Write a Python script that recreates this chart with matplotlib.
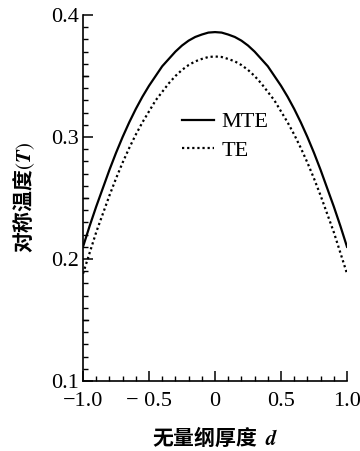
import matplotlib
matplotlib.use('Agg')
import matplotlib.pyplot as plt
from matplotlib.ticker import MultipleLocator

plt.rcParams['mathtext.fontset'] = 'stix'

# 无量纲厚度 d
d = [-1.0, -0.95, -0.9, -0.85, -0.8, -0.75, -0.7, -0.65, -0.6, -0.55, -0.5,
     -0.45, -0.4, -0.35, -0.3, -0.25, -0.2, -0.15, -0.1, -0.05, 0.0,
     0.05, 0.1, 0.15, 0.2, 0.25, 0.3, 0.35, 0.4, 0.45, 0.5,
     0.55, 0.6, 0.65, 0.7, 0.75, 0.8, 0.85, 0.9, 0.95, 1.0]
# 对称温度 T
mte = [0.210, 0.227, 0.243, 0.258, 0.273, 0.287, 0.300, 0.312, 0.323, 0.333, 0.342,
       0.350, 0.358, 0.364, 0.370, 0.375, 0.379, 0.382, 0.384, 0.3856, 0.386,
       0.3856, 0.384, 0.382, 0.379, 0.375, 0.370, 0.364, 0.358, 0.350, 0.342,
       0.333, 0.323, 0.312, 0.300, 0.287, 0.273, 0.258, 0.243, 0.227, 0.210]
te = [0.188, 0.205, 0.222, 0.237, 0.252, 0.266, 0.279, 0.291, 0.302, 0.312, 0.321,
      0.330, 0.337, 0.344, 0.350, 0.355, 0.359, 0.362, 0.364, 0.3656, 0.366,
      0.3656, 0.364, 0.362, 0.359, 0.355, 0.350, 0.344, 0.337, 0.330, 0.321,
      0.312, 0.302, 0.291, 0.279, 0.266, 0.252, 0.237, 0.222, 0.205, 0.188]

xticks = [-1.0, -0.5, 0.0, 0.5, 1.0]
xlabels = ['\u22121.0', '\u2212 0.5', '0', '0.5', '1.0']
yticks = [0.1, 0.2, 0.3, 0.4]
ylabels = ['0.1', '0.2', '0.3', '0.4']

serif = 'Liberation Serif'
cjk = 'Noto Sans CJK SC'

fig = plt.figure(figsize=(3.6, 4.51), dpi=100)
ax = fig.add_axes([0.2306, 0.1552, 0.7333, 0.8115])

ax.plot(d, mte, color='black', lw=1.6, label='MTE')
ax.plot(d, te, color='black', lw=1.6, ls=(0, (1, 1.3)), label='TE')

ax.set_xlim(-1.0, 1.0)
ax.set_ylim(0.1, 0.4)
ax.spines['top'].set_visible(False)
ax.spines['right'].set_visible(False)
ax.spines['left'].set_linewidth(1.2)
ax.spines['bottom'].set_linewidth(1.2)

ax.set_xticks(xticks)
ax.set_xticklabels(xlabels, fontfamily=serif, fontsize=16)
ax.set_yticks(yticks)
ax.set_yticklabels(ylabels, fontfamily=serif, fontsize=16)
ax.xaxis.set_minor_locator(MultipleLocator(0.1))
ax.yaxis.set_minor_locator(MultipleLocator(0.01))
ax.tick_params(which='major', direction='in', length=7, width=1.1)
ax.tick_params(axis='x', which='major', pad=8)
ax.tick_params(axis='y', which='major', pad=3)
ax.tick_params(which='minor', direction='in', length=3.5, width=1.0)
# medium ticks at 0.05 on y
for yv in [0.15, 0.25, 0.35]:
    ax.plot([-1.0, -0.965], [yv, yv], color='black', lw=1.0, clip_on=False)

ax.set_ylabel('对称温度$(\\mathbfit{T})$', fontfamily=[cjk, 'DejaVu Sans'],
              fontsize=15, fontweight='bold', labelpad=10)
ax.set_xlabel('无量纲厚度 $\\ \\mathbfit{d}$', fontfamily=[cjk, 'DejaVu Sans'],
              fontsize=15, fontweight='bold', labelpad=10)

leg = ax.legend(loc='upper left', bbox_to_anchor=(0.34, 0.76), frameon=False,
                prop={'family': serif, 'size': 16}, handlelength=1.45,
                handletextpad=0.35, labelspacing=0.35, borderaxespad=0)

fig.savefig('out.png', dpi=100)
